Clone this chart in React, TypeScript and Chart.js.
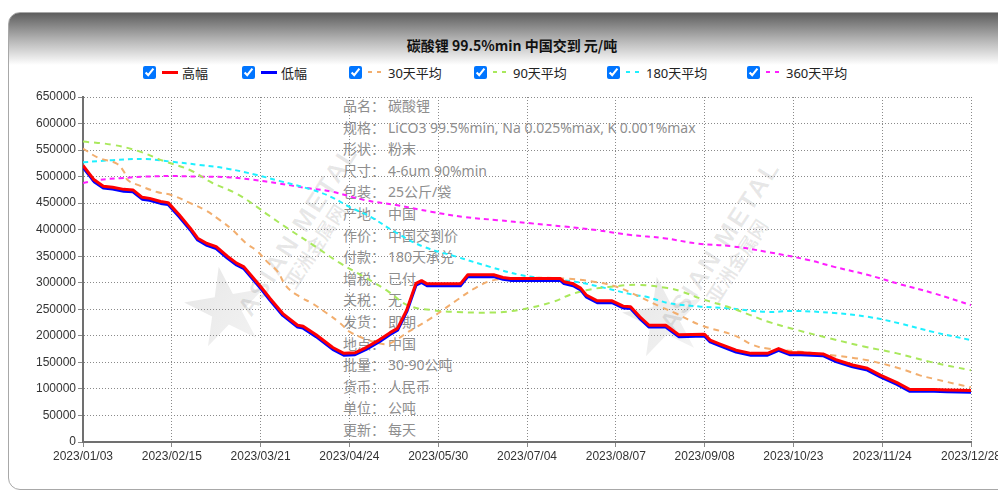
import React, { useEffect, useRef } from "react";
import { Chart, registerables } from "chart.js";

Chart.register(...registerables);

const chartTitle = "碳酸锂 99.5%min 中国交到 元/吨";
const dateLabels = ["2023/01/03", "2023/02/15", "2023/03/21", "2023/04/24", "2023/05/30", "2023/07/04", "2023/08/07", "2023/09/08", "2023/10/23", "2023/11/24", "2023/12/28"];
const seriesNames = ["高幅", "低幅", "30天平均", "90天平均", "180天平均", "360天平均"];
const seriesColors = ["#ff0000", "#0000ff", "#f2ae6e", "#a9e85c", "#1ef0ff", "#ff1eff"];

// trading-day index of each price reading (0..240)
const priceX = [0, 3, 5.5, 8, 11, 13.5, 16, 18, 21, 23, 26, 29, 31, 33.5, 36, 39, 41.5, 43.5, 48, 50.5, 54, 58, 59.5, 63, 67.5, 70.5, 73.5, 76.5, 80, 83, 85, 87.5, 90, 91.5, 93, 102, 104, 111, 113.5, 115.5, 129, 130, 132.5, 134.5, 136, 139, 143, 146, 148, 150.5, 153, 157.5, 161, 168, 169.5, 172, 176.5, 180.5, 185, 188, 191, 194, 200, 203.5, 208, 212, 215.5, 220, 223.5, 230, 233.5, 240];
const highValues = [521000, 494000, 482000, 480000, 476000, 475000, 461000, 459000, 453000, 451000, 428000, 403000, 384000, 374000, 368000, 350000, 337000, 330000, 293000, 271000, 242000, 220000, 218000, 202000, 178000, 167000, 168000, 178000, 192000, 206000, 214000, 249000, 299000, 304000, 298000, 298000, 315000, 315000, 310000, 308000, 308000, 302000, 298000, 290000, 277000, 266000, 266000, 256000, 255000, 236000, 220000, 220000, 202000, 203000, 192000, 185000, 173000, 167000, 167000, 176000, 168000, 168000, 166000, 155000, 145000, 139000, 126000, 112000, 99000, 99000, 98000, 97000];
const lowValues = [517500, 490500, 478500, 476500, 472500, 471500, 457500, 455500, 449500, 447500, 424500, 399500, 380500, 370500, 364500, 346500, 333500, 326500, 289500, 267500, 238500, 216500, 214500, 198500, 174500, 163500, 164500, 174500, 188500, 202500, 210500, 245500, 295500, 300500, 294500, 294500, 311500, 311500, 306500, 304500, 304500, 298500, 294500, 286500, 273500, 262500, 262500, 252500, 251500, 232500, 216500, 216500, 198500, 199500, 188500, 181500, 169500, 163500, 163500, 172500, 164500, 164500, 162500, 151500, 141500, 135500, 122500, 108500, 95500, 95500, 94500, 93500];

const ma30X = [0, 4, 9, 11, 12, 15, 20, 24, 29, 33, 37, 40.5, 44, 47, 50, 52.5, 55, 58.5, 62, 66, 69.5, 72, 76, 80, 83, 88, 94, 101, 106, 111, 120, 130, 138, 144, 150, 156, 160, 167, 176, 181, 185, 194, 203, 212, 221, 226, 230, 235.5, 240];
const ma30Values = [553000, 536000, 525000, 510000, 494000, 484000, 471000, 465000, 450000, 437000, 418000, 399000, 375000, 360000, 338000, 322000, 293000, 274000, 261000, 242000, 224000, 208000, 195000, 186000, 186000, 208000, 233000, 267000, 290000, 305000, 309000, 308000, 302000, 293000, 275000, 255000, 243000, 220000, 201000, 183000, 176000, 170000, 163000, 154000, 138000, 126000, 119000, 110000, 103000];

const ma90X = [0, 8, 15, 22, 29, 35, 41.5, 47, 50, 55, 62, 69.5, 76, 82, 88, 95, 101, 111, 118, 127, 131.5, 136, 142, 150, 158, 162, 167, 175, 180, 185, 193, 202, 211, 220, 229, 240];
const ma90Values = [566000, 560000, 548000, 529000, 512000, 488000, 468000, 443000, 428000, 404000, 372000, 337000, 311000, 286000, 257000, 248000, 245000, 244000, 249000, 264000, 277000, 286000, 292000, 296000, 290000, 283000, 270000, 253000, 240000, 227000, 211000, 195000, 180000, 167000, 151000, 135000];

const ma180X = [0, 8, 17, 24, 31.5, 39, 47, 53, 62, 67, 72, 77.5, 85, 92, 101, 110, 118, 125, 133, 140, 149, 152, 158, 161, 167, 174, 185, 192, 203, 212, 221, 230, 240];
const ma180Values = [527000, 531000, 533000, 528000, 522000, 515000, 503000, 492000, 475000, 462000, 443000, 425000, 393000, 368000, 349000, 330000, 315000, 308000, 302000, 292000, 277000, 274000, 262000, 259000, 255000, 252000, 245000, 247000, 243000, 236000, 223000, 207000, 192000];

const ma360X = [0, 4.5, 10, 17, 24, 31.5, 39, 46, 53, 60, 67, 76, 85, 94, 103, 112, 121, 130, 139, 148, 157, 166, 175, 185, 196, 203, 212, 221, 230, 240];
const ma360Values = [488000, 494000, 497000, 500000, 501000, 500000, 499000, 494000, 487000, 479000, 472000, 456000, 446000, 434000, 424000, 418000, 412000, 406000, 399000, 390000, 384000, 374000, 369000, 358000, 343000, 330000, 315000, 297000, 280000, 258000];

const infoLabels = ["品名：", "规格：", "形状：", "尺寸：", "包装：", "产地：", "作价：", "付款：", "增税：", "关税：", "发货：", "地点：", "批量：", "货币：", "单位：", "更新："];
const infoValues = ["碳酸锂", "LiCO3 99.5%min, Na 0.025%max, K 0.001%max", "粉末", "4-6um 90%min", "25公斤/袋", "中国", "中国交到价", "180天承兑", "已付", "无", "即期", "中国", "30-90公吨", "人民币", "公吨", "每天"];

const legendLefts = [143, 242, 349, 474, 607, 747];

const toPoints = (xs: number[], ys: number[]) => xs.map((x, i) => ({ x, y: ys[i] }));

const FONT = "'Noto Sans', 'Noto Sans CJK SC', sans-serif";

function Watermark({ cx, cy, sx, sy }: { cx: number; cy: number; sx: number; sy: number }) {
  return (
    <>
      <div
        style={{
          position: "absolute",
          left: sx - 42,
          top: sy - 42,
          width: 84,
          height: 84,
          background: "linear-gradient(135deg, #e2e2e2, #f2f2f2)",
          clipPath: "polygon(50% 0%, 61% 35%, 98% 35%, 68% 57%, 79% 91%, 50% 70%, 21% 91%, 32% 57%, 2% 35%, 39% 35%)",
          transform: "rotate(-10deg)",
          opacity: 0.85,
        }}
      />
      <div
        style={{
          position: "absolute",
          left: cx - 120,
          top: cy - 15,
          width: 240,
          textAlign: "center",
          font: "bold 26px 'Liberation Sans', Arial, sans-serif",
          color: "rgba(0,0,0,0.09)",
          transform: "rotate(-57deg)",
          whiteSpace: "nowrap",
          letterSpacing: 2,
        }}
      >
        ASIAN METAL
      </div>
      <div
        style={{
          position: "absolute",
          left: cx - 60 + 16,
          top: cy - 12 + 14,
          width: 120,
          textAlign: "center",
          font: "bold 19px 'Noto Sans CJK SC', sans-serif",
          color: "rgba(0,0,0,0.09)",
          transform: "rotate(-57deg)",
          whiteSpace: "nowrap",
        }}
      >
        亚洲金属网
      </div>
    </>
  );
}

export default function App() {
  const canvasRef = useRef<HTMLCanvasElement | null>(null);

  useEffect(() => {
    if (!canvasRef.current) return;
    const lineSets = [
      { xs: priceX, ys: highValues, width: 3, dash: [] as number[], smooth: false },
      { xs: priceX, ys: lowValues, width: 3, dash: [] as number[], smooth: false },
      { xs: ma30X, ys: ma30Values, width: 2, dash: [6, 5], smooth: true },
      { xs: ma90X, ys: ma90Values, width: 2, dash: [6, 5], smooth: true },
      { xs: ma180X, ys: ma180Values, width: 2, dash: [5, 4], smooth: true },
      { xs: ma360X, ys: ma360Values, width: 2, dash: [5, 4], smooth: true },
    ];
    const chart = new Chart(canvasRef.current, {
      type: "line",
      data: {
        datasets: lineSets.map((s, i) => ({
          label: seriesNames[i],
          data: toPoints(s.xs, s.ys),
          borderColor: seriesColors[i],
          backgroundColor: seriesColors[i],
          borderWidth: s.width,
          borderDash: s.dash,
          pointRadius: 0,
          fill: false,
          tension: s.smooth ? 0.4 : 0,
          borderJoinStyle: "round",
        })),
      },
      options: {
        animation: false,
        responsive: false,
        maintainAspectRatio: false,
        layout: { padding: { left: 0, right: 27, top: 97, bottom: 0 } },
        plugins: {
          legend: { display: false },
          title: { display: false },
          tooltip: { enabled: false },
        },
        scales: {
          x: {
            type: "linear",
            min: 0,
            max: 240,
            afterFit: (scale: any) => {
              scale.height = 49;
              scale.paddingLeft = 0;
              scale.paddingRight = 0;
            },
            ticks: {
              stepSize: 24,
              autoSkip: false,
              maxRotation: 0,
              minRotation: 0,
              padding: 2,
              color: "#333",
              font: { family: "'Liberation Sans', Arial, sans-serif", size: 12 },
              callback: (v: any) => dateLabels[Math.round(Number(v) / 24)] ?? "",
            },
            grid: { color: "#8a8a8a", lineWidth: 1, tickLength: 5, drawTicks: true },
            border: { display: true, color: "#707070", width: 2, dash: [1, 2] },
          },
          y: {
            min: 0,
            max: 650000,
            afterFit: (scale: any) => {
              scale.width = 83;
              scale.paddingTop = 0;
              scale.paddingBottom = 0;
            },
            ticks: {
              stepSize: 50000,
              padding: 2,
              color: "#333",
              font: { family: "'Liberation Sans', Arial, sans-serif", size: 12 },
              callback: (v: any) => String(v),
            },
            grid: { color: "#8a8a8a", lineWidth: 1, tickLength: 5, drawTicks: true },
            border: { display: true, color: "#707070", width: 2, dash: [1, 2] },
          },
        },
      } as any,
    });
    return () => chart.destroy();
  }, []);

  return (
    <div style={{ position: "absolute", left: 0, top: 0, width: 998, height: 491, overflow: "hidden", background: "#fff" }}>
      <div
        style={{
          position: "absolute",
          left: 8,
          top: 12,
          width: 1020,
          height: 476,
          border: "1px solid #a8a8a8",
          borderRadius: 12,
          background: "linear-gradient(to bottom, #5e5e5e 0px, #b8b8b8 28px, #ffffff 52px, #ffffff 100%)",
        }}
      />
      <Watermark cx={298} cy={230} sx={226} sy={308} />
      <Watermark cx={720} cy={245} sx={664} sy={318} />
      <div
        style={{
          position: "absolute",
          left: 0,
          top: 35,
          width: 1024,
          textAlign: "center",
          font: `bold 14px 'Noto Sans CJK SC', 'Noto Sans', sans-serif`,
          color: "#111",
          lineHeight: "20px",
        }}
      >
        {chartTitle}
      </div>
      {seriesNames.map((name, i) => (
        <div
          key={name}
          style={{
            position: "absolute",
            left: legendLefts[i],
            top: 63,
            height: 18,
            display: "flex",
            alignItems: "center",
            whiteSpace: "nowrap",
            font: `13px ${FONT}`,
            color: "#222",
          }}
        >
          <input type="checkbox" checked readOnly style={{ margin: 0, width: 13, height: 13 }} />
          <span
            style={{
              display: "inline-block",
              marginLeft: 6,
              width: 16,
              height: i < 2 ? 3 : 2,
              background:
                i < 2
                  ? seriesColors[i]
                  : `repeating-linear-gradient(to right, ${seriesColors[i]} 0 4px, transparent 4px 9px)`,
            }}
          />
          <span style={{ marginLeft: 4 }}>{name}</span>
        </div>
      ))}
      <div style={{ position: "absolute", left: 343, top: 95, font: `14px ${FONT}`, color: "#8e8e8e", lineHeight: "21.6px" }}>
        {infoLabels.map((lab, i) => (
          <div key={lab} style={{ display: "flex", whiteSpace: "nowrap" }}>
            <span style={{ width: 45, display: "inline-block" }}>{lab}</span>
            <span>{infoValues[i]}</span>
          </div>
        ))}
      </div>
      <canvas ref={canvasRef} width={998} height={491} style={{ position: "absolute", left: 0, top: 0, width: 998, height: 491 }} />
    </div>
  );
}
